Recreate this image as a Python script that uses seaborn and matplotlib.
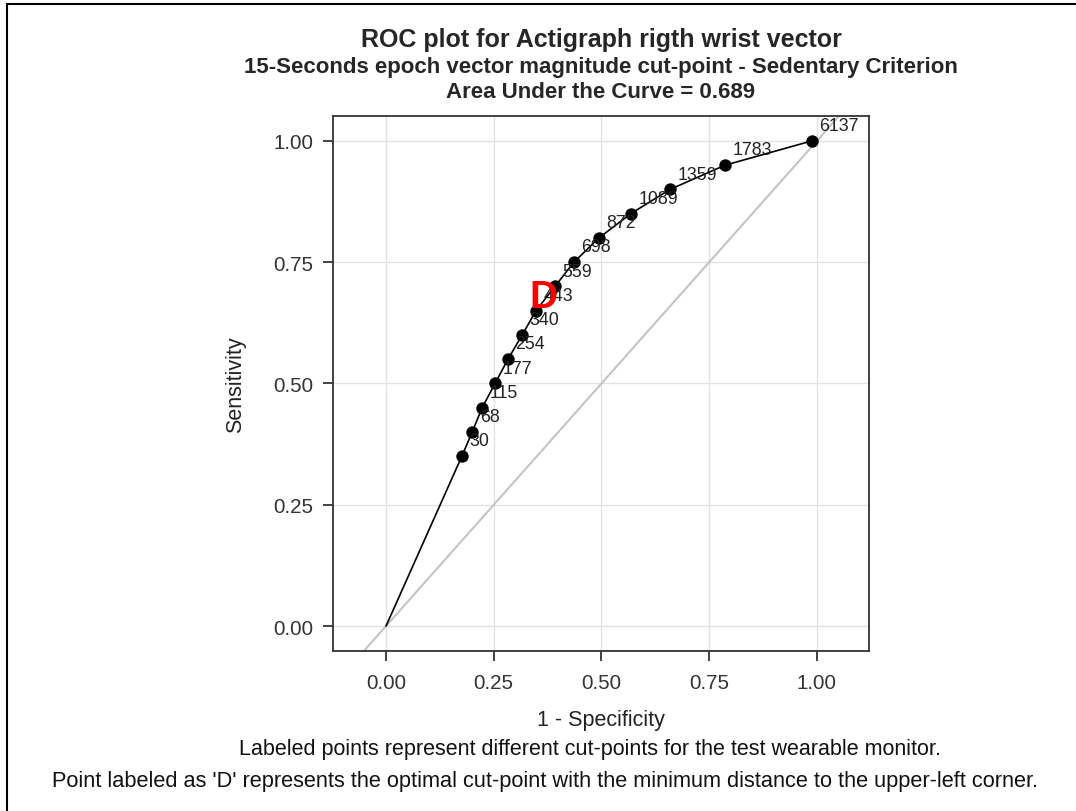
import matplotlib
matplotlib.use("Agg")
import matplotlib.pyplot as plt
import pandas as pd
import seaborn as sns
from matplotlib.lines import Line2D

# ROC points (1 - specificity, sensitivity, cut-point label)
fpr = [0.176, 0.200, 0.223, 0.253, 0.283, 0.316, 0.348, 0.392, 0.436, 0.494, 0.568, 0.659, 0.787, 0.988]
sens = [0.35, 0.40, 0.45, 0.50, 0.55, 0.60, 0.65, 0.70, 0.75, 0.80, 0.85, 0.90, 0.95, 1.00]
cut_labels = ["30", "68", "115", "177", "254", "340", "443", "559", "698", "872", "1089", "1359", "1783", "6137"]
optimal_label = "443"

ticks = [0.0, 0.25, 0.5, 0.75, 1.0]
tick_labels = ["0.00", "0.25", "0.50", "0.75", "1.00"]

title = "ROC plot for Actigraph rigth wrist vector"
subtitle = "15-Seconds epoch vector magnitude cut-point - Sedentary Criterion"
auc_text = "Area Under the Curve = 0.689"
foot1 = "Labeled points represent different cut-points for the test wearable monitor."
foot2 = "Point labeled as 'D' represents the optimal cut-point with the minimum distance to the upper-left corner."

sns.set_theme(style="white")
plt.rcParams["font.family"] = ["Liberation Sans", "DejaVu Sans"]

points = pd.DataFrame({"fpr": fpr, "sens": sens, "label": cut_labels})
curve = pd.concat([pd.DataFrame({"fpr": [0.0], "sens": [0.0], "label": [""]}), points], ignore_index=True)

fig = plt.figure(figsize=(10.76, 8.12), dpi=100)
ax = fig.add_axes([0.3095, 0.197, 0.498, 0.659])

ax.set_xlim(-0.123, 1.1206)
ax.set_ylim(-0.0515, 1.0515)
ax.set_xticks(ticks)
ax.set_xticklabels(tick_labels)
ax.set_yticks(ticks)
ax.set_yticklabels(tick_labels)
ax.grid(True, color="#e2e2e2", lw=1.0, zorder=0)
ax.set_axisbelow(True)

# chance line
ax.axline((0, 0), (1, 1), color="#c4c4c4", lw=1.5, zorder=1)

sns.lineplot(data=curve, x="fpr", y="sens", sort=False, color="black", lw=1.2,
             estimator=None, ax=ax, zorder=2)
sns.scatterplot(data=points, x="fpr", y="sens", color="black", s=80,
                edgecolor="black", linewidth=0, ax=ax, zorder=3)

for _, r in points.iterrows():
    ax.annotate(r["label"], (r["fpr"], r["sens"]), xytext=(5.5, 11),
                textcoords="offset points", ha="left", va="center",
                fontsize=12.8, color="#222222", zorder=4)

opt = points[points["label"] == optimal_label].iloc[0]
ax.annotate("D", (opt["fpr"], opt["sens"]), xytext=(5.5, 10),
            textcoords="offset points", ha="center", va="center",
            fontsize=28, fontweight="bold", color="red", zorder=5)

for s in ax.spines.values():
    s.set_color("#333333")
    s.set_linewidth(1.3)
ax.tick_params(axis="both", length=7, width=1.3, color="#333333", direction="out",
               labelsize=14.8, labelcolor="#333333", bottom=True, left=True)
ax.tick_params(axis="x", pad=9)
ax.tick_params(axis="y", pad=7)

ax.set_xlabel("1 - Specificity", fontsize=15.5, color="#222222", labelpad=12)
ax.set_ylabel("Sensitivity", fontsize=15.5, color="#222222", labelpad=20)

fig.text(601 / 1076, 1 - 40 / 812, title, ha="center", va="center", fontsize=18, fontweight="bold")
fig.text(601 / 1076, 1 - 67 / 812, subtitle, ha="center", va="center", fontsize=16, fontweight="bold")
fig.text(601 / 1076, 1 - 93 / 812, auc_text, ha="center", va="center", fontsize=16, fontweight="bold")

fig.text(590 / 1076, 1 - 750 / 812, foot1, ha="center", va="center", fontsize=15.5, color="#111111")
fig.text(545 / 1076, 1 - 782 / 812, foot2, ha="center", va="center", fontsize=15.7, color="#111111")

# outer frame (top and left edges visible)
fig.add_artist(Line2D([7 / 1076, 1.0], [1 - 5 / 812, 1 - 5 / 812], color="black", lw=1.5,
                      transform=fig.transFigure))
fig.add_artist(Line2D([7 / 1076, 7 / 1076], [0.0, 1 - 5 / 812], color="black", lw=1.5,
                      transform=fig.transFigure))

fig.savefig("out.png", dpi=100)
plt.close(fig)
